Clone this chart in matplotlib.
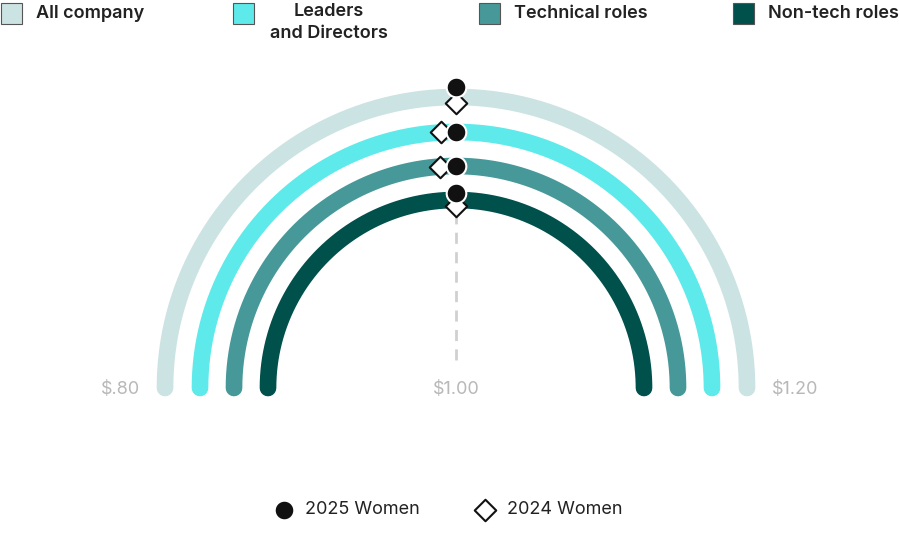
import numpy as np
import matplotlib.pyplot as plt
from matplotlib.patches import Rectangle

plt.rcParams['font.family'] = ['Inter', 'DejaVu Sans']

# Data
groups = ['All company', 'Leaders\nand Directors', 'Technical roles', 'Non-tech roles']
colors = ['#cce3e3', '#5eeaea', '#479999', '#00504c']
women_2025 = [1.00, 1.00, 1.00, 1.00]
women_2024 = [1.00, 0.9925, 0.991, 1.00]
tick_values = [0.80, 1.00, 1.20]
tick_labels = ['$.80', '$1.00', '$1.20']

# Layout (pixel space)
cx, cy = 456, 388
radii = [291, 256, 222, 188]
vmin, vmax = 0.80, 1.20


def ang(v):
    return np.pi * (vmax - v) / (vmax - vmin)


def pos(v, r):
    a = ang(v)
    return cx + r * np.cos(a), cy - r * np.sin(a)


fig = plt.figure(figsize=(8.99, 5.49), dpi=100)
ax = fig.add_axes([0, 0, 1, 1])
ax.set_xlim(0, 899)
ax.set_ylim(549, 0)
ax.axis('off')

# dashed reference line at $1.00
ax.plot([cx, cx], [cy - 28, cy - 180], color='#d0d0d0', lw=2, ls=(0, (4, 3)), zorder=1)

t = np.linspace(vmin, vmax, 300)
for r, c in zip(radii, colors):
    xs, ys = pos(t, r)
    ax.plot(xs, ys, color=c, lw=12, solid_capstyle='round', zorder=2)

for i, r in enumerate(radii):
    same = abs(women_2025[i] - women_2024[i]) < 1e-6
    r25 = r + 10 if same and i == 0 else (r - 4 if same else r)
    r24 = r - 6 if same else r
    if same and i == 3:
        r25, r24 = r + 7, r - 6
    x, y = pos(women_2024[i], r24)
    ax.scatter(x, y, marker='D', s=120, facecolor='white', edgecolor='#111111', lw=1.5, zorder=3)
    x, y = pos(women_2025[i], r25)
    ax.scatter(x, y, marker='o', s=200, facecolor='#111111', edgecolor='white', lw=1.5, zorder=4)

# axis labels
for v, lab in zip(tick_values, tick_labels):
    x, _ = pos(v, radii[0])
    if v == vmin:
        x -= 44
    elif v == vmax:
        x += 48
    ax.text(x, cy + 1, lab, ha='center', va='center', fontsize=13, color='#b8b8b8')

# top legend
leg_x = [0, 232, 478, 732]
for lx, g, c in zip(leg_x, groups, colors):
    ax.add_patch(Rectangle((lx + 1, 3), 21, 21, facecolor=c, edgecolor='#555555', lw=0.8))
    if '\n' in g:
        ax.text(329, 3, g, ha='center', va='top', fontsize=13, color='#222222',
                fontweight='semibold', linespacing=1.4)
    else:
        ax.text(lx + 36, 13, g, ha='left', va='center', fontsize=13, color='#222222',
                fontweight='semibold')

# bottom legend
ax.scatter(284, 510, marker='o', s=200, facecolor='#111111', edgecolor='white', lw=1.5)
ax.text(305, 510, '2025 Women', ha='left', va='center', fontsize=13, color='#222222')
ax.scatter(485, 510, marker='D', s=120, facecolor='white', edgecolor='#111111', lw=1.5)
ax.text(507, 510, '2024 Women', ha='left', va='center', fontsize=13, color='#222222')

fig.savefig('out.png', dpi=100)
